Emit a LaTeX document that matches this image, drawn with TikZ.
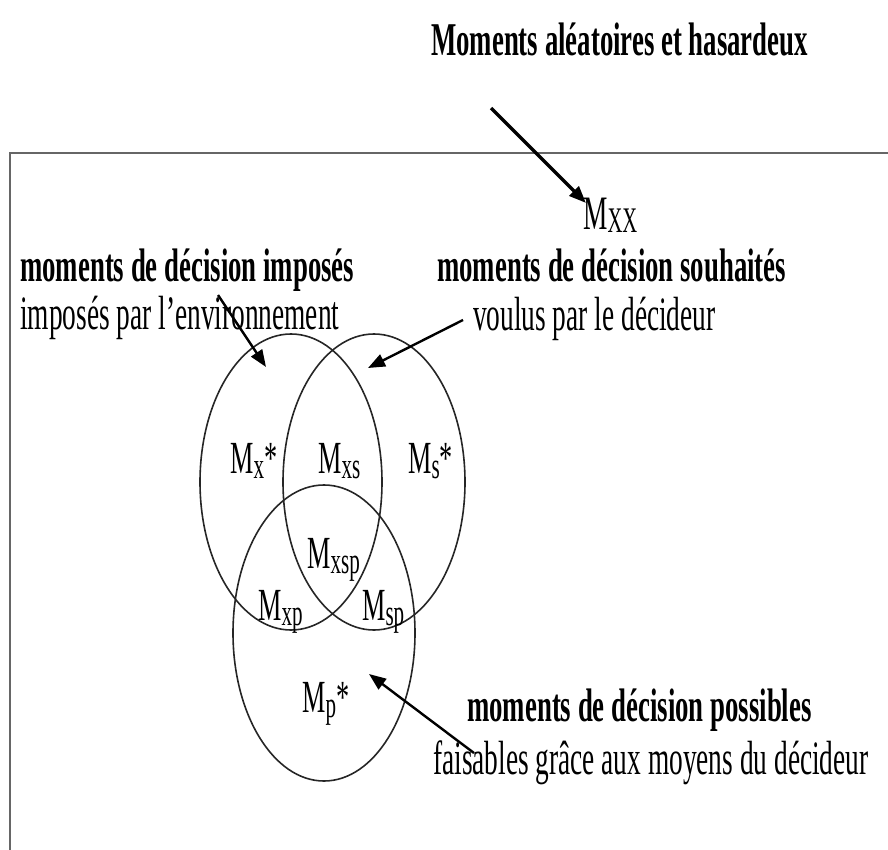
\documentclass[tikz,border=0pt]{standalone}
\usepackage{fontspec}
\setmainfont{Liberation Serif}[FakeStretch=0.57]
\usetikzlibrary{arrows.meta}
\newcommand{\msub}[1]{\raisebox{-0.12em}{\fontsize{37}{37}\selectfont #1}}

\begin{document}
\begin{tikzpicture}[x=1pt, y=-1pt,
    venn/.style={draw=black!85, line width=1.6pt},
    frameline/.style={draw=black!60, line width=2.4pt},
    pointer/.style={draw=black, line width=2.4pt, -{Triangle[length=17pt, width=13pt]}},
    headtxt/.style={anchor=base west, inner sep=0pt, font=\fontsize{47}{47}\selectfont\bfseries},
    subtxt/.style={anchor=base west, inner sep=0pt, font=\fontsize{48}{48}\selectfont},
    mlab/.style={anchor=base west, inner sep=0pt, font=\fontsize{46}{46}\selectfont}]
    \useasboundingbox (0,0) rectangle (888,850);

    % cadre
    \draw[frameline] (10,850) -- (10,153) -- (888,153);

    % ensembles
    \draw[venn] (291,482) ellipse [x radius=91pt, y radius=148pt];
    \draw[venn] (374,482) ellipse [x radius=91pt, y radius=148pt];
    \draw[venn] (324,633) ellipse [x radius=91pt, y radius=148pt];

    % textes
    \node[headtxt] (alea) at (431,56) {Moments aléatoires et hasardeux};
    \node[headtxt] (imposeH) at (20,281) {moments de décision imposés};
    \node[subtxt] (imposeS) at (20,329) {imposés par l’environnement};
    \node[headtxt] (souhaitH) at (437,281) {moments de décision souhaités};
    \node[subtxt] (souhaitS) at (473,330) {voulus par le décideur};
    \node[headtxt] (possibH) at (467,721) {moments de décision possibles};
    \node[subtxt] (possibS) at (433,774) {faisables grâce aux moyens du décideur};

    % moments
    \node[mlab, font=\fontsize{48}{48}\selectfont] (mxx) at (583,230) {M\raisebox{-0.06em}{\fontsize{36}{36}\selectfont XX}};
    \node[mlab] (mx) at (230,473) {M\msub{x}*};
    \node[mlab] (mxs) at (318,473) {M\msub{xs}};
    \node[mlab] (ms) at (408,473) {M\msub{s}*};
    \node[mlab] (mxsp) at (307,568) {M\msub{xsp}};
    \node[mlab] (mxp) at (258,620) {M\msub{xp}};
    \node[mlab] (msp) at (362,620) {M\msub{sp}};
    \node[mlab] (mp) at (302,712) {M\msub{p}*};

    % fleches
    \coordinate (aleaT) at (491,108);
    \coordinate (aleaH) at (586,203);
    \coordinate (imposeT) at (218,295);
    \coordinate (imposeA) at (266,367);
    \coordinate (souhaitT) at (463,320);
    \coordinate (souhaitA) at (368,368);
    \coordinate (possibT) at (474,753);
    \coordinate (possibA) at (369,674);
    \draw[pointer, line width=3.4pt] (aleaT) -- (aleaH);
    \draw[pointer] (imposeT) -- (imposeA);
    \draw[pointer] (souhaitT) -- (souhaitA);
    \draw[pointer] (possibT) -- (possibA);
\end{tikzpicture}
\end{document}
